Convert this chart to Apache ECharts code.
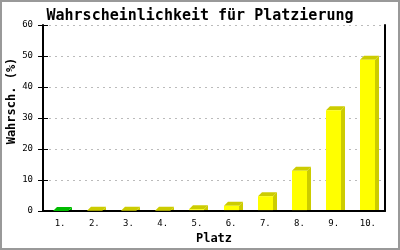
<!DOCTYPE html>
<html><head><meta charset="utf-8">
<script src="https://cdn.jsdelivr.net/npm/echarts@6/dist/echarts.min.js"></script>
<style>html,body{margin:0;padding:0;background:#fff}#c{width:400px;height:250px}</style>
</head><body><div id="c"></div>
<script>
const categories = ['1.','2.','3.','4.','5.','6.','7.','8.','9.','10.'];
const values = [0, 0.1, 0.1, 0.1, 0.6, 1.7, 4.8, 13.0, 32.5, 48.8];
const frontColors = ['#00ee00','#ffff00','#ffff00','#ffff00','#ffff00','#ffff00','#ffff00','#ffff00','#ffff00','#ffff00'];
const darkColors = ['#00bb00','#cccc00','#cccc00','#cccc00','#cccc00','#cccc00','#cccc00','#cccc00','#cccc00','#cccc00'];
const yTicks = [0,10,20,30,40,50,60];
const mono = 'DejaVu Sans Mono';
const chart = echarts.init(document.getElementById('c'), null, {renderer:'canvas'});
chart.setOption({
  animation:false,
  backgroundColor:'#fff',
  title:{text:'Wahrscheinlichkeit für Platzierung', left:'center', top:4,
    textStyle:{fontFamily:mono, fontWeight:'bold', fontSize:15, color:'#000'}},
  grid:{left:43, right:15, top:25, bottom:36, containLabel:false},
  xAxis:{type:'category', data:categories, name:'Platz', nameLocation:'middle', nameGap:19,
    nameTextStyle:{fontFamily:mono, fontWeight:'bold', fontSize:12, color:'#000'},
    axisLine:{lineStyle:{color:'#000', width:2}}, axisTick:{show:false},
    axisLabel:{fontFamily:mono, fontSize:9, color:'#000', margin:8}},
  yAxis:[{type:'value', min:yTicks[0], max:yTicks[yTicks.length-1], interval:10,
    axisLine:{show:true, lineStyle:{color:'#000', width:2}},
    axisTick:{show:true, length:5, lineStyle:{color:'#000'}},
    axisLabel:{fontFamily:mono, fontSize:9, color:'#000', margin:10},
    splitLine:{lineStyle:{color:'#bbb', type:[2,4]}}},
   {type:'value', min:0, max:60, interval:10, position:'right',
    axisLine:{show:true, lineStyle:{color:'#000', width:2}}, axisTick:{show:false},
    axisLabel:{show:false}, splitLine:{show:false}},
   {type:'value', min:0, max:60, interval:10, position:'left', offset:0,
    axisLine:{show:false}, axisTick:{show:true, inside:true, length:5, lineStyle:{color:'#000'}},
    axisLabel:{show:false}, splitLine:{show:false}}],
  graphic:[
    {type:'rect', shape:{x:1, y:1, width:398, height:248}, style:{fill:'none', stroke:'#999', lineWidth:2}, silent:true},
    {type:'text', x:12, y:101, rotation:Math.PI/2, style:{text:'Wahrsch. (%)', fontFamily:mono, fontWeight:'bold', fontSize:12, fill:'#000', align:'center', verticalAlign:'middle'}}
  ],
  series:[{type:'custom', data: values.map((v,i)=>[i,v]), encode:{x:0,y:1},
    renderItem:function(params, api){
      const i = api.value(0);
      const p = api.coord([i, api.value(1)]);
      const b = api.coord([i, 0]);
      const w = 15, d = 4;
      const x0 = Math.round(p[0]-w/2), x1 = x0 + w;
      const y = p[1], base = b[1];
      return {type:'group', children:[
        {type:'polygon', shape:{points:[[x1,y],[x1+d,y-d],[x1+d,base-1],[x1,base-1]]}, style:{fill:darkColors[i]}},
        {type:'polygon', shape:{points:[[x0,y],[x0+d,y-d],[x1+d,y-d],[x1,y]]}, style:{fill:darkColors[i]}},
        {type:'rect', shape:{x:x0, y:y, width:w, height:Math.max(0, base-y-1)}, style:{fill:frontColors[i]}}
      ]};
    }
  }]
});
</script></body></html>
